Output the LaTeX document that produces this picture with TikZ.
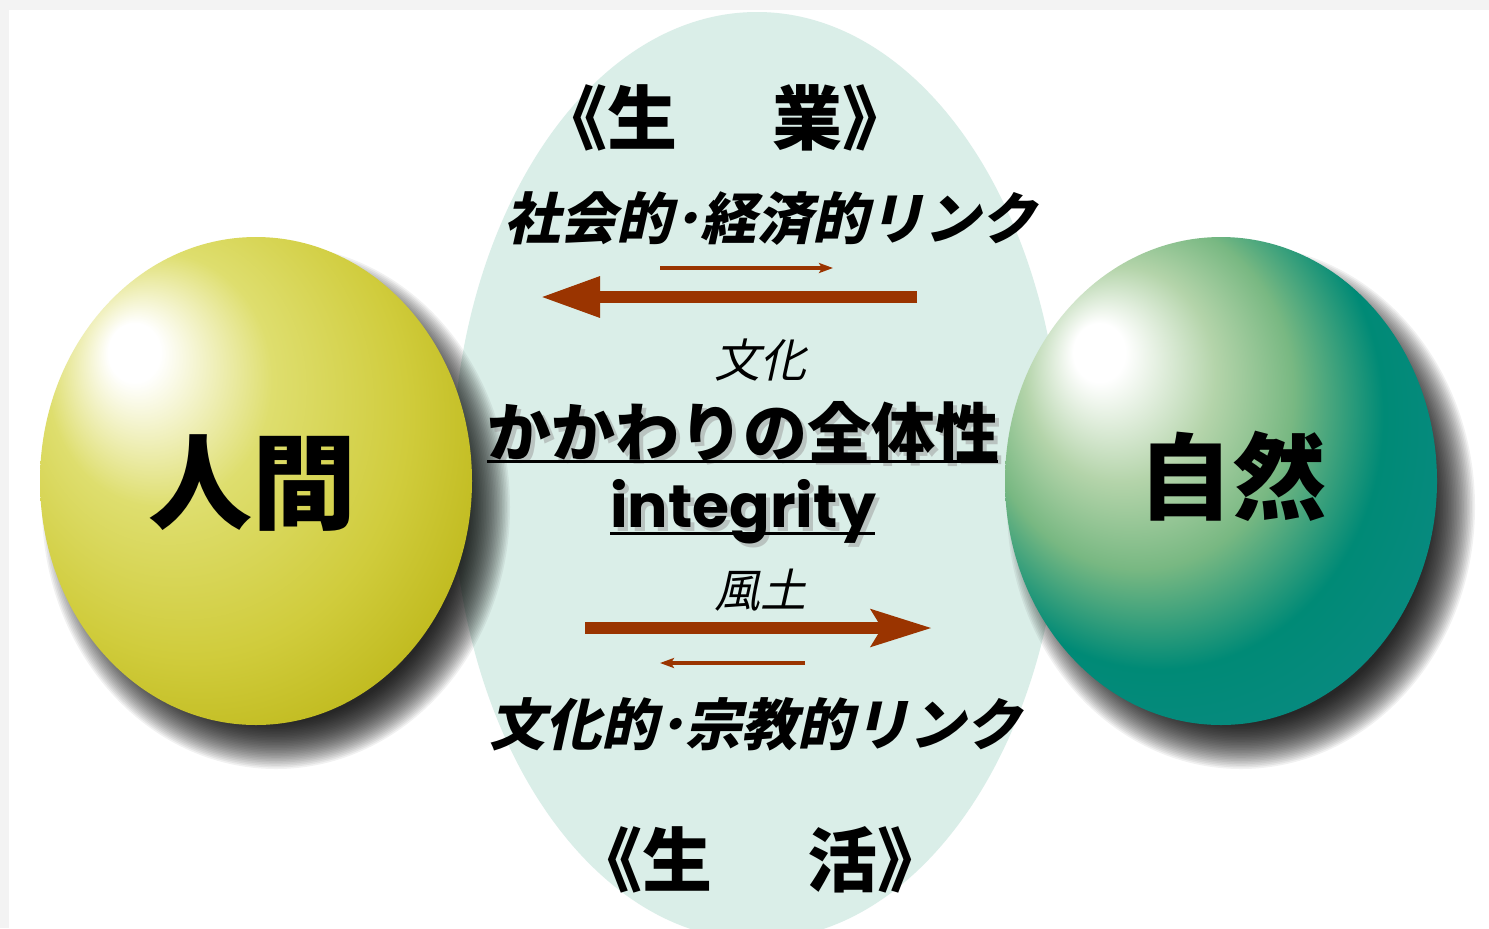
\documentclass[tikz,border=0pt]{standalone}
\usepackage{fontspec}
\usetikzlibrary{arrows.meta}
\newfontfamily\jp{Noto Sans CJK JP}
\newfontfamily\jpsl{Noto Sans CJK JP}[FakeSlant=0.22]
\newfontfamily\latn{Poppins}
\definecolor{mint}{RGB}{218,238,232}
\definecolor{arr}{RGB}{154,52,0}
\definecolor{bgray}{RGB}{243,243,243}
\definecolor{yA}{RGB}{222,222,110}
\definecolor{yB}{RGB}{208,204,60}
\definecolor{yC}{RGB}{192,186,30}
\definecolor{yD}{RGB}{170,198,40}
\definecolor{tA}{RGB}{180,212,170}
\definecolor{tB}{RGB}{120,184,130}
\definecolor{tC}{RGB}{0,138,118}
\definecolor{tD}{RGB}{16,138,138}
\pgfdeclareradialshading{ballY}{\pgfpoint{-15bp}{14bp}}{color(0bp)=(white); color(3bp)=(white); color(13bp)=(yA); color(25bp)=(yB); color(33bp)=(yC); color(42bp)=(yD); color(50bp)=(yD)}
\pgfdeclareradialshading{ballT}{\pgfpoint{-15bp}{14bp}}{color(0bp)=(white); color(3bp)=(white); color(11bp)=(tA); color(18bp)=(tB); color(26bp)=(tC); color(40bp)=(tD); color(50bp)=(tD)}
\tikzset{
  big/.style={font=\jp\bfseries\fontsize{35pt}{40pt}\selectfont, inner sep=0pt},
  linktext/.style={font=\jpsl\bfseries\fontsize{28pt}{32pt}\selectfont, inner sep=0pt},
  thintext/.style={font=\jpsl\fontsize{23pt}{28pt}\selectfont, inner sep=0pt},
  kktext/.style={font=\jp\bfseries\fontsize{32pt}{36pt}\selectfont, inner sep=0pt},
  intext/.style={font=\latn\bfseries\fontsize{30pt}{36pt}\selectfont, inner sep=0pt},
  txtshadow/.style={text=black!40, opacity=0.5},
  thickarrow/.style={draw=arr, line width=6pt},
  thinarrow/.style={draw=arr, line width=2pt, -{Stealth[length=7pt,width=5pt,inset=1.5pt]}},
  underl/.style={draw=black, line width=1.5pt},
}
\begin{document}
\begin{tikzpicture}[x=0.5pt,y=-0.5pt]
\useasboundingbox (0,0) rectangle (1489,928);
\fill[bgray] (0,0) rectangle (1489,928);
\fill[white] (9,10) rectangle (1489,928);
% central ellipse
\fill[mint] (757,476) ellipse [x radius=152.5pt, y radius=232pt];
% shadows of spheres
\foreach \i in {0,...,29}{
  \fill[black, opacity=0.055] (276,507) ellipse [x radius={(117-0.8*\i)*1pt}, y radius={(131-0.8*\i)*1pt}];
  \fill[black, opacity=0.055] (1241,507) ellipse [x radius={(117-0.8*\i)*1pt}, y radius={(131-0.8*\i)*1pt}];
}
% spheres
\path[shading=ballY] (256,481) ellipse [x radius=108pt, y radius=122pt];
\path[shading=ballT] (1221,481) ellipse [x radius=108pt, y radius=122pt];
\node[font=\jp\bfseries\fontsize{52pt}{56pt}\selectfont, inner sep=0pt] (ningen) at (252,483) {人間};
\node[font=\jp\bfseries\fontsize{47pt}{52pt}\selectfont, inner sep=0pt] (shizen) at (1232,476) {自然};
% top texts
\node[big] (seigyo) at (725,118) {《生\hspace{1.35em}業》};
\node[linktext] (link1) at (770,219) {社会的･経済的リンク};
% arrows top
\coordinate (a1s) at (660,268); \coordinate (a1e) at (833,268);
\coordinate (a2s) at (917,297); \coordinate (a2e) at (540,297);
\draw[thinarrow] (a1s) -- (a1e);
\draw[thickarrow, -{Triangle[length=30pt,width=19pt]}] (a2s) -- (a2e);
\node[thintext] (bunka) at (760,360) {文化};
% central texts with shadows
\node[kktext, txtshadow] (kksh) at (747,436) {かかわりの全体性};
\node[kktext] (kk) at (743,432) {かかわりの全体性};
\coordinate (u1a) at (487,461); \coordinate (u1b) at (998,461);
\draw[underl] (u1a) -- (u1b);
\node[intext, txtshadow, anchor=base] (insh) at (747,531) {integrity};
\node[intext, anchor=base] (integ) at (743,527) {integrity};
\coordinate (u2a) at (610,533); \coordinate (u2b) at (875,533);
\draw[underl] (u2a) -- (u2b);
\node[thintext] (fudo) at (760,590) {風土};
% arrows bottom
\coordinate (b1s) at (585,628); \coordinate (b1e) at (932,628);
\coordinate (b2s) at (805,663); \coordinate (b2e) at (660,663);
\draw[thickarrow, -{Stealth[length=30pt,width=18pt,inset=5pt]}] (b1s) -- (b1e);
\draw[thinarrow] (b2s) -- (b2e);
% bottom texts
\node[linktext] (link2) at (755,724) {文化的･宗教的リンク};
\node[big] (seikatsu) at (760,860) {《生\hspace{1.35em}活》};
\end{tikzpicture}
\end{document}
